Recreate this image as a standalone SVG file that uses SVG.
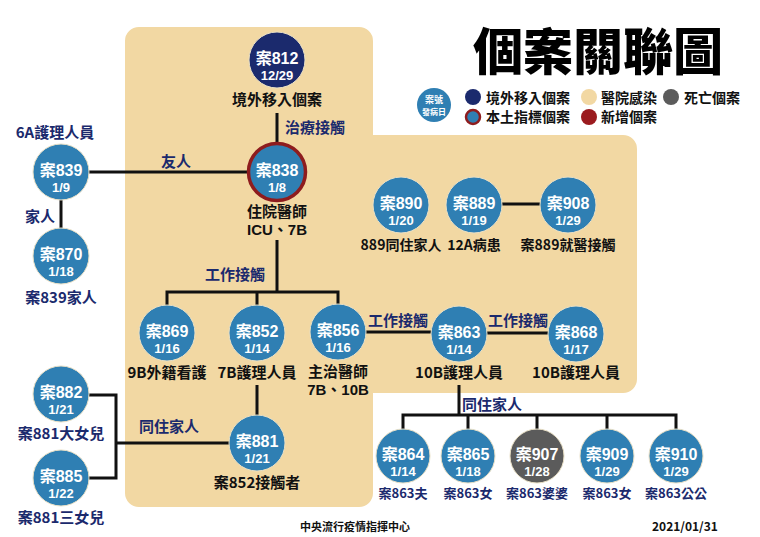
<svg xmlns="http://www.w3.org/2000/svg" width="760" height="537" viewBox="0 0 760 537">
<style>
text{font-family:"Noto Sans CJK TC","Noto Sans CJK SC",sans-serif;font-weight:bold}
.c{text-anchor:middle}
.n1{font-family:"Liberation Sans","Noto Sans CJK TC",sans-serif;font-size:16px;fill:#fff;text-anchor:middle}
.n2{font-family:"Liberation Sans",sans-serif;font-size:13px;fill:#fff;text-anchor:middle}
.lb{font-size:15px;fill:#111;text-anchor:middle}
.lb2{font-family:"Liberation Sans","Noto Sans CJK TC",sans-serif;font-size:15px;fill:#111;text-anchor:middle}
.lb14{font-size:14px;fill:#111;text-anchor:middle}
.nv{font-size:15px;fill:#1b2a6d}
.sm{font-size:13px;fill:#1b2a6d;text-anchor:middle}
.lg{font-size:14px;fill:#111}
.blue{fill:#2f7fb3;stroke:#e9e0c6;stroke-width:1}
.navy{fill:#1b2a6d;stroke:#e9e0c6;stroke-width:1}
.gray{fill:#5b5b5b;stroke:#e9e0c6;stroke-width:1}
.ln{stroke:#111;stroke-width:3;fill:none}
</style>
<rect width="760" height="537" fill="#fff"/>
<path d="M139,27 H359 A14,14 0 0 1 373,41 V135 H623 A14,14 0 0 1 637,149 V379 A14,14 0 0 1 623,393 H373 V493 A14,14 0 0 1 359,507 H139 A14,14 0 0 1 125,493 V41 A14,14 0 0 1 139,27 Z" fill="#f2d8a3"/>
<text x="598" y="70" class="c" style="font-size:50px;font-weight:900;fill:#000">個案關聯圖</text>
<g id="legend">
<circle cx="434" cy="105" r="17" fill="#2f7fb3"/>
<text x="434" y="103" class="c" style="font-size:9px;fill:#fff">案號</text>
<text x="434" y="115" class="c" style="font-size:8px;fill:#fff">發病日</text>
<circle cx="473" cy="97" r="8" fill="#1b2a6d"/>
<text x="486" y="103" class="lg">境外移入個案</text>
<circle cx="589" cy="97" r="8" fill="#f2d8a3"/>
<text x="601" y="103" class="lg">醫院感染</text>
<circle cx="671" cy="97" r="8" fill="#5b5b5b"/>
<text x="684" y="103" class="lg">死亡個案</text>
<circle cx="473" cy="117" r="7" fill="#2f7fb3" stroke="#8e1c1e" stroke-width="2.5"/>
<text x="486" y="122" class="lg">本土指標個案</text>
<circle cx="589" cy="117" r="8" fill="#9b1b1f"/>
<text x="601" y="122" class="lg">新增個案</text>
</g>
<g id="connectors">
<path class="ln" d="M277,113 V142"/>
<path class="ln" d="M89,172 H247"/>
<path class="ln" d="M61,200 V228"/>
<path class="ln" d="M277,240 V292 M167,305 V292 H338 V305 M257,292 V305"/>
<path class="ln" d="M257,385 V415"/>
<path class="ln" d="M89,395 H116 V478 H89 M116,443 H230"/>
<path class="ln" d="M502,204 H540"/>
<path class="ln" d="M366,332 H432"/>
<path class="ln" d="M487,333 H548"/>
<path class="ln" d="M459,385 V415 M403,429 V415 H676 V429 M468,415 V429 M537,415 V429 M607,415 V429"/>
<text x="285" y="133" class="nv">治療接觸</text>
<text x="161" y="167" class="nv">友人</text>
<text x="25" y="222" class="nv">家人</text>
<text x="205" y="280" class="nv">工作接觸</text>
<text x="139" y="432" class="nv">同住家人</text>
<text x="368" y="326" class="nv">工作接觸</text>
<text x="488" y="326" class="nv">工作接觸</text>
<text x="462" y="410" class="nv">同住家人</text>
</g>
<g id="n812"><circle cx="277" cy="60" r="28" class="navy"/><text x="277" y="64" class="n1">案812</text><text x="277" y="80" class="n2">12/29</text><text x="277" y="105" class="lb">境外移入個案</text></g>
<g id="n838"><circle cx="277" cy="172" r="28.5" fill="#2f7fb3" stroke="#8e1c1e" stroke-width="3.5"/><text x="277" y="176" class="n1">案838</text><text x="277" y="192" class="n2">1/8</text><text x="277" y="217" class="lb2">住院醫師</text><text x="277" y="235" class="lb2">ICU、7B</text></g>
<g id="n839"><circle cx="61" cy="172" r="28" class="blue"/><text x="61" y="176" class="n1">案839</text><text x="61" y="192" class="n2">1/9</text><text x="55" y="138" class="nv c">6A護理人員</text></g>
<g id="n870"><circle cx="61" cy="256" r="28" class="blue"/><text x="61" y="260" class="n1">案870</text><text x="61" y="276" class="n2">1/18</text><text x="61" y="303" class="nv c">案839家人</text></g>
<g id="n869"><circle cx="167" cy="333" r="28" class="blue"/><text x="167" y="337" class="n1">案869</text><text x="167" y="353" class="n2">1/16</text><text x="167" y="378" class="lb">9B外籍看護</text></g>
<g id="n852"><circle cx="257" cy="333" r="28" class="blue"/><text x="257" y="337" class="n1">案852</text><text x="257" y="353" class="n2">1/14</text><text x="257" y="378" class="lb">7B護理人員</text></g>
<g id="n856"><circle cx="338" cy="332" r="28" class="blue"/><text x="338" y="336" class="n1">案856</text><text x="338" y="352" class="n2">1/16</text><text x="338" y="377" class="lb2">主治醫師</text><text x="338" y="395" class="lb2">7B、10B</text></g>
<g id="n881"><circle cx="257" cy="443" r="28" class="blue"/><text x="257" y="447" class="n1">案881</text><text x="257" y="463" class="n2">1/21</text><text x="257" y="488" class="lb">案852接觸者</text></g>
<g id="n882"><circle cx="61" cy="394" r="28" class="blue"/><text x="61" y="398" class="n1">案882</text><text x="61" y="414" class="n2">1/21</text><text x="61" y="439" class="nv c">案881大女兒</text></g>
<g id="n885"><circle cx="61" cy="478" r="28" class="blue"/><text x="61" y="482" class="n1">案885</text><text x="61" y="498" class="n2">1/22</text><text x="61" y="523" class="nv c">案881三女兒</text></g>
<g id="n890"><circle cx="401" cy="205" r="28" class="blue"/><text x="401" y="209" class="n1">案890</text><text x="401" y="225" class="n2">1/20</text><text x="401" y="250" class="lb14">889同住家人</text></g>
<g id="n889"><circle cx="474" cy="205" r="28" class="blue"/><text x="474" y="209" class="n1">案889</text><text x="474" y="225" class="n2">1/19</text><text x="474" y="250" class="lb14">12A病患</text></g>
<g id="n908"><circle cx="568" cy="205" r="28" class="blue"/><text x="568" y="209" class="n1">案908</text><text x="568" y="225" class="n2">1/29</text><text x="568" y="250" class="lb14">案889就醫接觸</text></g>
<g id="n863"><circle cx="459" cy="334" r="28" class="blue"/><text x="459" y="338" class="n1">案863</text><text x="459" y="354" class="n2">1/14</text><text x="459" y="378" class="lb">10B護理人員</text></g>
<g id="n868"><circle cx="576" cy="334" r="28" class="blue"/><text x="576" y="338" class="n1">案868</text><text x="576" y="354" class="n2">1/17</text><text x="576" y="378" class="lb">10B護理人員</text></g>
<g id="n864"><circle cx="403" cy="456" r="27" class="blue"/><text x="403" y="460" class="n1">案864</text><text x="403" y="476" class="n2">1/14</text><text x="403" y="498" class="sm">案863夫</text></g>
<g id="n865"><circle cx="468" cy="456" r="27" class="blue"/><text x="468" y="460" class="n1">案865</text><text x="468" y="476" class="n2">1/18</text><text x="468" y="498" class="sm">案863女</text></g>
<g id="n907"><circle cx="537" cy="456" r="27" class="gray"/><text x="537" y="460" class="n1">案907</text><text x="537" y="476" class="n2">1/28</text><text x="537" y="498" class="sm">案863婆婆</text></g>
<g id="n909"><circle cx="607" cy="456" r="27" class="blue"/><text x="607" y="460" class="n1">案909</text><text x="607" y="476" class="n2">1/29</text><text x="607" y="498" class="sm">案863女</text></g>
<g id="n910"><circle cx="676" cy="456" r="27" class="blue"/><text x="676" y="460" class="n1">案910</text><text x="676" y="476" class="n2">1/29</text><text x="676" y="498" class="sm">案863公公</text></g>
<text x="300" y="531" style="font-size:11px;fill:#111">中央流行疫情指揮中心</text>
<text x="652" y="531" style="font-size:12px;fill:#111">2021/01/31</text>
</svg>
